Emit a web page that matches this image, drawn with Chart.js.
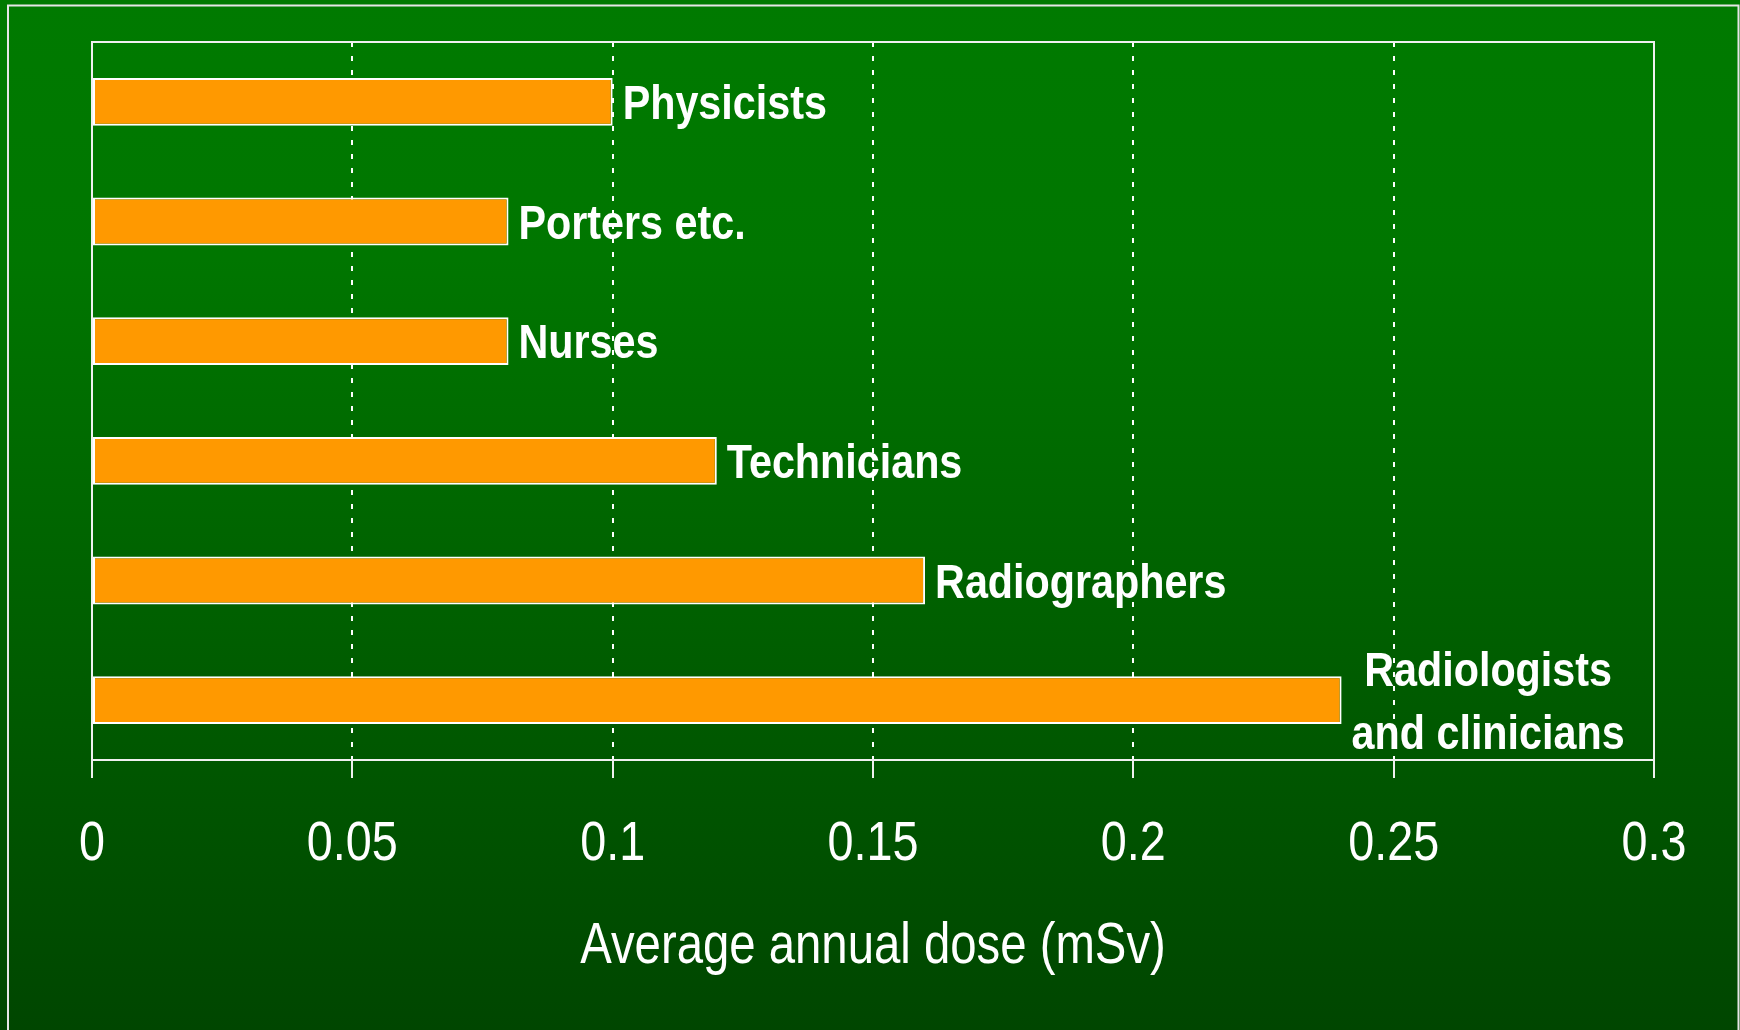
<!DOCTYPE html>
<html>
<head>
<meta charset="utf-8">
<title>Average annual dose</title>
<script src="https://cdn.jsdelivr.net/npm/chart.js@4/dist/chart.umd.min.js"></script>
<style>
	html, body { margin: 0; padding: 0; background: #006000; }
	#wrap { width: 1740px; height: 1030px; position: relative; }
</style>
</head>
<body>
<div id="wrap"><canvas id="chartCanvas" width="1740" height="1030"></canvas></div>
<script>
const categories = ['Physicists', 'Porters etc.', 'Nurses', 'Technicians', 'Radiographers', ['Radiologists', 'and clinicians']];
const doses = [0.1, 0.08, 0.08, 0.12, 0.16, 0.24];
const tickValues = [0, 0.05, 0.1, 0.15, 0.2, 0.25, 0.3];
const tickLabels = ['0', '0.05', '0.1', '0.15', '0.2', '0.25', '0.3'];
const axisTitle = 'Average annual dose (mSv)';

// no narrow face installed, so the Arial-Narrow look is faked with a horizontal squeeze
const FAMILY = '"Liberation Sans", Arial, sans-serif';
const SQUEEZE = 0.85;

function squeezedText(ctx, text, x, y, sx) {
	ctx.save();
	ctx.translate(x, y);
	ctx.scale(sx, 1);
	ctx.fillText(text, 0, 0);
	ctx.restore();
}

// green gradient page + thin outer frame
const backdrop = {
	id: 'backdrop',
	beforeDraw(chart) {
		const { ctx, width, height } = chart;
		const g = ctx.createLinearGradient(0, 0, 0, height);
		g.addColorStop(0, '#007a00');
		g.addColorStop(0.25, '#007600');
		g.addColorStop(1, '#004600');
		ctx.save();
		ctx.fillStyle = g;
		ctx.fillRect(0, 0, width, height);
		ctx.strokeStyle = '#e6e6e6';
		ctx.lineWidth = 2;
		ctx.beginPath();
		ctx.moveTo(8, height);
		ctx.lineTo(8, 5.5);
		ctx.lineTo(1738.5, 5.5);
		ctx.lineTo(1738.5, height);
		ctx.stroke();
		ctx.restore();
	},
	afterDraw(chart) {
		const { ctx, chartArea: a } = chart;
		const xs = chart.scales.x;
		ctx.save();
		ctx.strokeStyle = '#f0f0f0';
		ctx.lineWidth = 2;
		ctx.strokeRect(a.left, a.top, a.right - a.left, a.bottom - a.top);

		// tick labels and axis title, placed from the x scale
		ctx.fillStyle = '#ffffff';
		ctx.textAlign = 'center';
		ctx.textBaseline = 'middle';
		ctx.font = '55px ' + FAMILY;
		tickValues.forEach((v, i) => {
			squeezedText(ctx, tickLabels[i], xs.getPixelForValue(v), a.bottom + 85, SQUEEZE);
		});
		ctx.font = '57px ' + FAMILY;
		squeezedText(ctx, axisTitle, (a.left + a.right) / 2, a.bottom + 187, 0.83);
		ctx.restore();
	}
};

// category names written after the end of each bar
const barLabels = {
	id: 'barLabels',
	afterDatasetsDraw(chart) {
		const { ctx } = chart;
		const meta = chart.getDatasetMeta(0);
		const sx = 0.86;
		ctx.save();
		ctx.fillStyle = '#ffffff';
		ctx.font = 'bold 48px ' + FAMILY;
		ctx.textBaseline = 'middle';
		ctx.textAlign = 'center';
		meta.data.forEach((bar, i) => {
			const lines = [].concat(categories[i]);
			const w = Math.max(...lines.map(l => ctx.measureText(l).width)) * sx;
			const cx = bar.x + 10 + w / 2;
			const lh = 63;
			const y0 = bar.y + 4 - (lines.length - 1) * lh / 2;
			lines.forEach((l, k) => squeezedText(ctx, l, cx, y0 + k * lh, sx));
		});
		ctx.restore();
	}
};

const ctx = document.getElementById('chartCanvas').getContext('2d');
new Chart(ctx, {
	type: 'bar',
	data: {
		labels: categories,
		datasets: [{
			data: doses,
			backgroundColor: '#ff9900',
			borderColor: '#ffffff',
			borderWidth: 2,
			borderSkipped: false,
			categoryPercentage: 1,
			barPercentage: 0.4
		}]
	},
	options: {
		indexAxis: 'y',
		responsive: false,
		animation: false,
		layout: { padding: { left: 92, right: 86, top: 42, bottom: 252 } },
		plugins: {
			legend: { display: false },
			tooltip: { enabled: false }
		},
		scales: {
			x: {
				min: 0,
				max: 0.3,
				afterBuildTicks: scale => {
					scale.ticks = tickValues.map(v => ({ value: v }));
				},
				grid: {
					color: '#ffffff',
					lineWidth: 2,
					tickLength: 18,
					tickBorderDash: [],
					tickColor: '#f0f0f0'
				},
				border: { display: true, color: '#f0f0f0', width: 2, dash: [5, 9] },
				ticks: { display: false },
				title: { display: false }
			},
			y: {
				display: false
			}
		}
	},
	plugins: [backdrop, barLabels]
});
</script>
</body>
</html>
